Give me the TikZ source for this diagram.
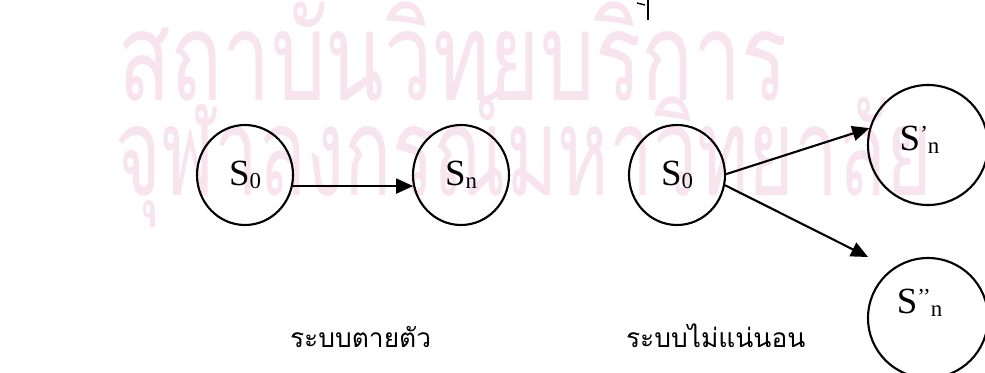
\documentclass[tikz,border=0pt]{standalone}
\usepackage{fontspec}
\setmainfont{Liberation Serif}
\newfontfamily\thaifont[Script=Thai]{Loma}
\usetikzlibrary{positioning}
\usetikzlibrary{arrows.meta}
\usetikzlibrary{shapes.geometric}
\definecolor{wmpink}{RGB}{248,228,237}
\newcommand{\lo}[1]{\lower1.8pt\hbox{\fontsize{13}{13}\selectfont #1}}
\newcommand{\hi}[1]{\raise5pt\hbox{\fontsize{13}{13}\selectfont #1}}
\tikzset{state/.style = {draw, ellipse, inner sep = 0, minimum width = 1.92cm, minimum height = 2cm}}
\tikzset{bigstate/.style = {draw, circle, inner sep = 0, minimum size = 2.4cm}}
\tikzset{arr/.style = {-{Triangle[length=0.34cm,width=0.3cm]}}}
\tikzset{caption/.style = {font=\thaifont\fontsize{15}{15}\selectfont, anchor=base west, inner sep=0}}
\tikzset{wmtext/.style = {text=wmpink, font=\thaifont\fontsize{70}{70}\selectfont,
    anchor=base west, inner sep=0, transform shape}}
\tikzset{every picture/.style={
    every path/.style={very thick},
    every node/.style={font=\fontsize{21}{21}\selectfont},
}}

\begin{document}
\begin{tikzpicture}
      \fill[white] (0,0) rectangle (19.7,-7.44);
      \useasboundingbox (0,0) rectangle (19.7,-7.44);
      % faint background lettering
      \node (wm1) [wmtext, xscale=0.7] at (2.35,-2.0) {สถาบันวิทยบริการ};
      \node (wm2) [wmtext, xscale=0.635] at (2.3,-3.9) {จุฬาลงกรณ์มหาวิทยาลัย};
      \draw[thick] (12.96,0) -- (12.96,-0.4);
      \draw[thick] (12.74,-0.06) -- (12.9,-0.1);
      % fixed system
      \node (s0a) [state] at (4.90,-3.50) {S\lo{0}};
      \node (sn) [state] at (9.22,-3.50) {S\lo{n}};
      \draw[arr] (s0a.-13) -- (sn.193);
      % branching system
      \node (s0b) [state] at (13.54,-3.50) {S\lo{0}};
      \node (snp) [bigstate] at (18.56,-2.90) {};
      \node (snpp) [bigstate] at (18.56,-6.36) {};
      \node (tsnp) at (18.39,-2.80) {S\hi{’}\lo{n}};
      \node (tsnpp) at (18.39,-6.06) {S\hi{’’}\lo{n}};
      \coordinate (tipb) at (17.36,-5.14);
      \draw[arr] (s0b.1) -- (snp.164);
      \draw[arr] (s0b.-12) -- (tipb);
      % captions
      \node (cap1) [caption] at (5.78,-6.94) {ระบบตายตัว};
      \node (cap2) [caption] at (12.5,-6.94) {ระบบไม่แน่นอน};
\end{tikzpicture}
\end{document}
